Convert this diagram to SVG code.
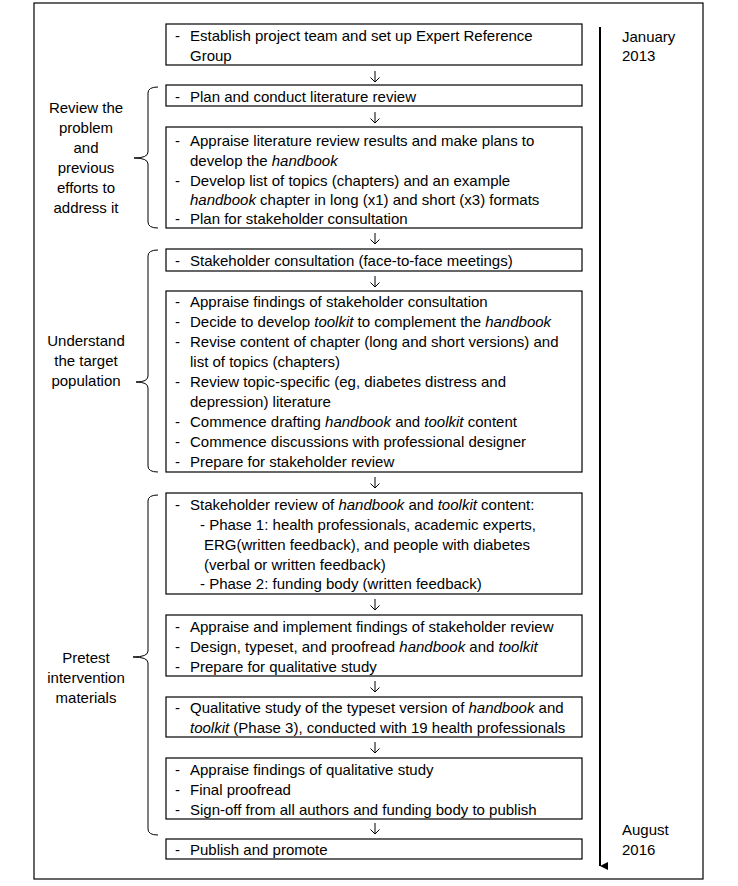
<svg xmlns="http://www.w3.org/2000/svg" width="738" height="886" viewBox="0 0 738 886">
<defs>
<style>
text{font-family:"Liberation Sans",Arial,sans-serif;font-size:15px;fill:#000}
.lbl{text-anchor:middle}
.box{fill:#fff;stroke:#000;stroke-width:1.2}
.conn{fill:none;stroke:#000;stroke-width:1}
.brace{fill:none;stroke:#000;stroke-width:1}
.i{font-style:italic}
</style>
<marker id="tl" viewBox="0 0 10 10" refX="5" refY="10" markerWidth="8" markerHeight="10" markerUnits="userSpaceOnUse" orient="auto-start-reverse">
<path d="M0,0 L10,0 L5,10 Z" fill="#000"/>
</marker>
</defs>
<rect x="0" y="0" width="738" height="886" fill="#fff"/>
<rect x="34" y="3" width="669" height="876" fill="none" stroke="#000" stroke-width="1.2"/>

<g id="timeline">
<line x1="600" y1="27" x2="600" y2="866" stroke="#000" stroke-width="2" marker-end="url(#tl)"/>
<text x="622" y="42">January</text>
<text x="622" y="61">2013</text>
<text x="622" y="835">August</text>
<text x="622" y="855">2016</text>
</g>

<g id="connectors">
<path class="conn" d="M375,71 V82 M370.5,77.5 L375,82 L379.5,77.5"/>
<path class="conn" d="M375,112 V123 M370.5,118.5 L375,123 L379.5,118.5"/>
<path class="conn" d="M375,233 V244 M370.5,239.5 L375,244 L379.5,239.5"/>
<path class="conn" d="M375,276 V287 M370.5,282.5 L375,287 L379.5,282.5"/>
<path class="conn" d="M375,477 V488 M370.5,483.5 L375,488 L379.5,483.5"/>
<path class="conn" d="M375,599 V610 M370.5,605.5 L375,610 L379.5,605.5"/>
<path class="conn" d="M375,681 V692 M370.5,687.5 L375,692 L379.5,687.5"/>
<path class="conn" d="M375,742 V753 M370.5,748.5 L375,753 L379.5,748.5"/>
<path class="conn" d="M375,823 V834 M370.5,829.5 L375,834 L379.5,829.5"/>
</g>

<g id="group-review">
<path class="brace" d="M158,87 Q148,87 148,93 V152 Q148,158 134,158 Q148,158 148,164 V222 Q148,228 158,228"/>
<text class="lbl" x="86" y="113">Review the</text>
<text class="lbl" x="86" y="133">problem</text>
<text class="lbl" x="86" y="153">and</text>
<text class="lbl" x="86" y="173">previous</text>
<text class="lbl" x="86" y="193">efforts to</text>
<text class="lbl" x="86" y="213">address it</text>
</g>

<g id="group-understand">
<path class="brace" d="M158,250 Q148,250 148,256 V376 Q148,382 136,382 Q148,382 148,388 V466 Q148,472 158,472"/>
<text class="lbl" x="86" y="346">Understand</text>
<text class="lbl" x="86" y="366">the target</text>
<text class="lbl" x="86" y="386">population</text>
</g>

<g id="group-pretest">
<path class="brace" d="M158,495 Q148,495 148,501 V651 Q148,657 133,657 Q148,657 148,663 V829 Q148,835 158,835"/>
<text class="lbl" x="86" y="663">Pretest</text>
<text class="lbl" x="86" y="683">intervention</text>
<text class="lbl" x="86" y="703">materials</text>
</g>

<g id="n1">
<rect class="box" x="166" y="24" width="416" height="41"/>
<text x="175" y="41">-</text><text x="190" y="41">Establish project team and set up Expert Reference</text>
<text x="190" y="61">Group</text>
</g>

<g id="n2">
<rect class="box" x="166" y="85" width="416" height="21"/>
<text x="175" y="102">-</text><text x="190" y="102">Plan and conduct literature review</text>
</g>

<g id="n3">
<rect class="box" x="166" y="127" width="416" height="101"/>
<text x="175" y="146">-</text><text x="190" y="146">Appraise literature review results and make plans to</text>
<text x="190" y="166">develop the <tspan class="i">handbook</tspan></text>
<text x="175" y="186">-</text><text x="190" y="186">Develop list of topics (chapters) and an example</text>
<text x="190" y="205"><tspan class="i">handbook</tspan> chapter in long (x1) and short (x3) formats</text>
<text x="175" y="224">-</text><text x="190" y="224">Plan for stakeholder consultation</text>
</g>

<g id="n4">
<rect class="box" x="166" y="249" width="416" height="22"/>
<text x="175" y="266">-</text><text x="190" y="266">Stakeholder consultation (face-to-face meetings)</text>
</g>

<g id="n5">
<rect class="box" x="166" y="291" width="416" height="181"/>
<text x="175" y="307">-</text><text x="190" y="307">Appraise findings of stakeholder consultation</text>
<text x="175" y="327">-</text><text x="190" y="327">Decide to develop <tspan class="i">toolkit</tspan> to complement the <tspan class="i">handbook</tspan></text>
<text x="175" y="347">-</text><text x="190" y="347">Revise content of chapter (long and short versions) and</text>
<text x="190" y="367">list of topics (chapters)</text>
<text x="175" y="387">-</text><text x="190" y="387">Review topic-specific (eg, diabetes distress and</text>
<text x="190" y="407">depression) literature</text>
<text x="175" y="427">-</text><text x="190" y="427">Commence drafting <tspan class="i">handbook</tspan> and <tspan class="i">toolkit</tspan> content</text>
<text x="175" y="447">-</text><text x="190" y="447">Commence discussions with professional designer</text>
<text x="175" y="467">-</text><text x="190" y="467">Prepare for stakeholder review</text>
</g>

<g id="n6">
<rect class="box" x="166" y="493" width="416" height="101"/>
<text x="175" y="510">-</text><text x="190" y="510">Stakeholder review of <tspan class="i">handbook</tspan> and <tspan class="i">toolkit</tspan> content:</text>
<text x="200" y="530">- Phase 1: health professionals, academic experts,</text>
<text x="204" y="550">ERG(written feedback), and people with diabetes</text>
<text x="204" y="570">(verbal or written feedback)</text>
<text x="200" y="589">- Phase 2: funding body (written feedback)</text>
</g>

<g id="n7">
<rect class="box" x="166" y="615" width="416" height="61"/>
<text x="175" y="632">-</text><text x="190" y="632">Appraise and implement findings of stakeholder review</text>
<text x="175" y="652">-</text><text x="190" y="652">Design, typeset, and proofread <tspan class="i">handbook</tspan> and <tspan class="i">toolkit</tspan></text>
<text x="175" y="672">-</text><text x="190" y="672">Prepare for qualitative study</text>
</g>

<g id="n8">
<rect class="box" x="166" y="697" width="416" height="40"/>
<text x="175" y="713">-</text><text x="190" y="713">Qualitative study of the typeset version of <tspan class="i">handbook</tspan> and</text>
<text x="190" y="733"><tspan class="i">toolkit</tspan> (Phase 3), conducted with 19 health professionals</text>
</g>

<g id="n9">
<rect class="box" x="166" y="758" width="416" height="61"/>
<text x="175" y="775">-</text><text x="190" y="775">Appraise findings of qualitative study</text>
<text x="175" y="795">-</text><text x="190" y="795">Final proofread</text>
<text x="175" y="815">-</text><text x="190" y="815">Sign-off from all authors and funding body to publish</text>
</g>

<g id="n10">
<rect class="box" x="166" y="839" width="416" height="20"/>
<text x="175" y="855">-</text><text x="190" y="855">Publish and promote</text>
</g>
</svg>
